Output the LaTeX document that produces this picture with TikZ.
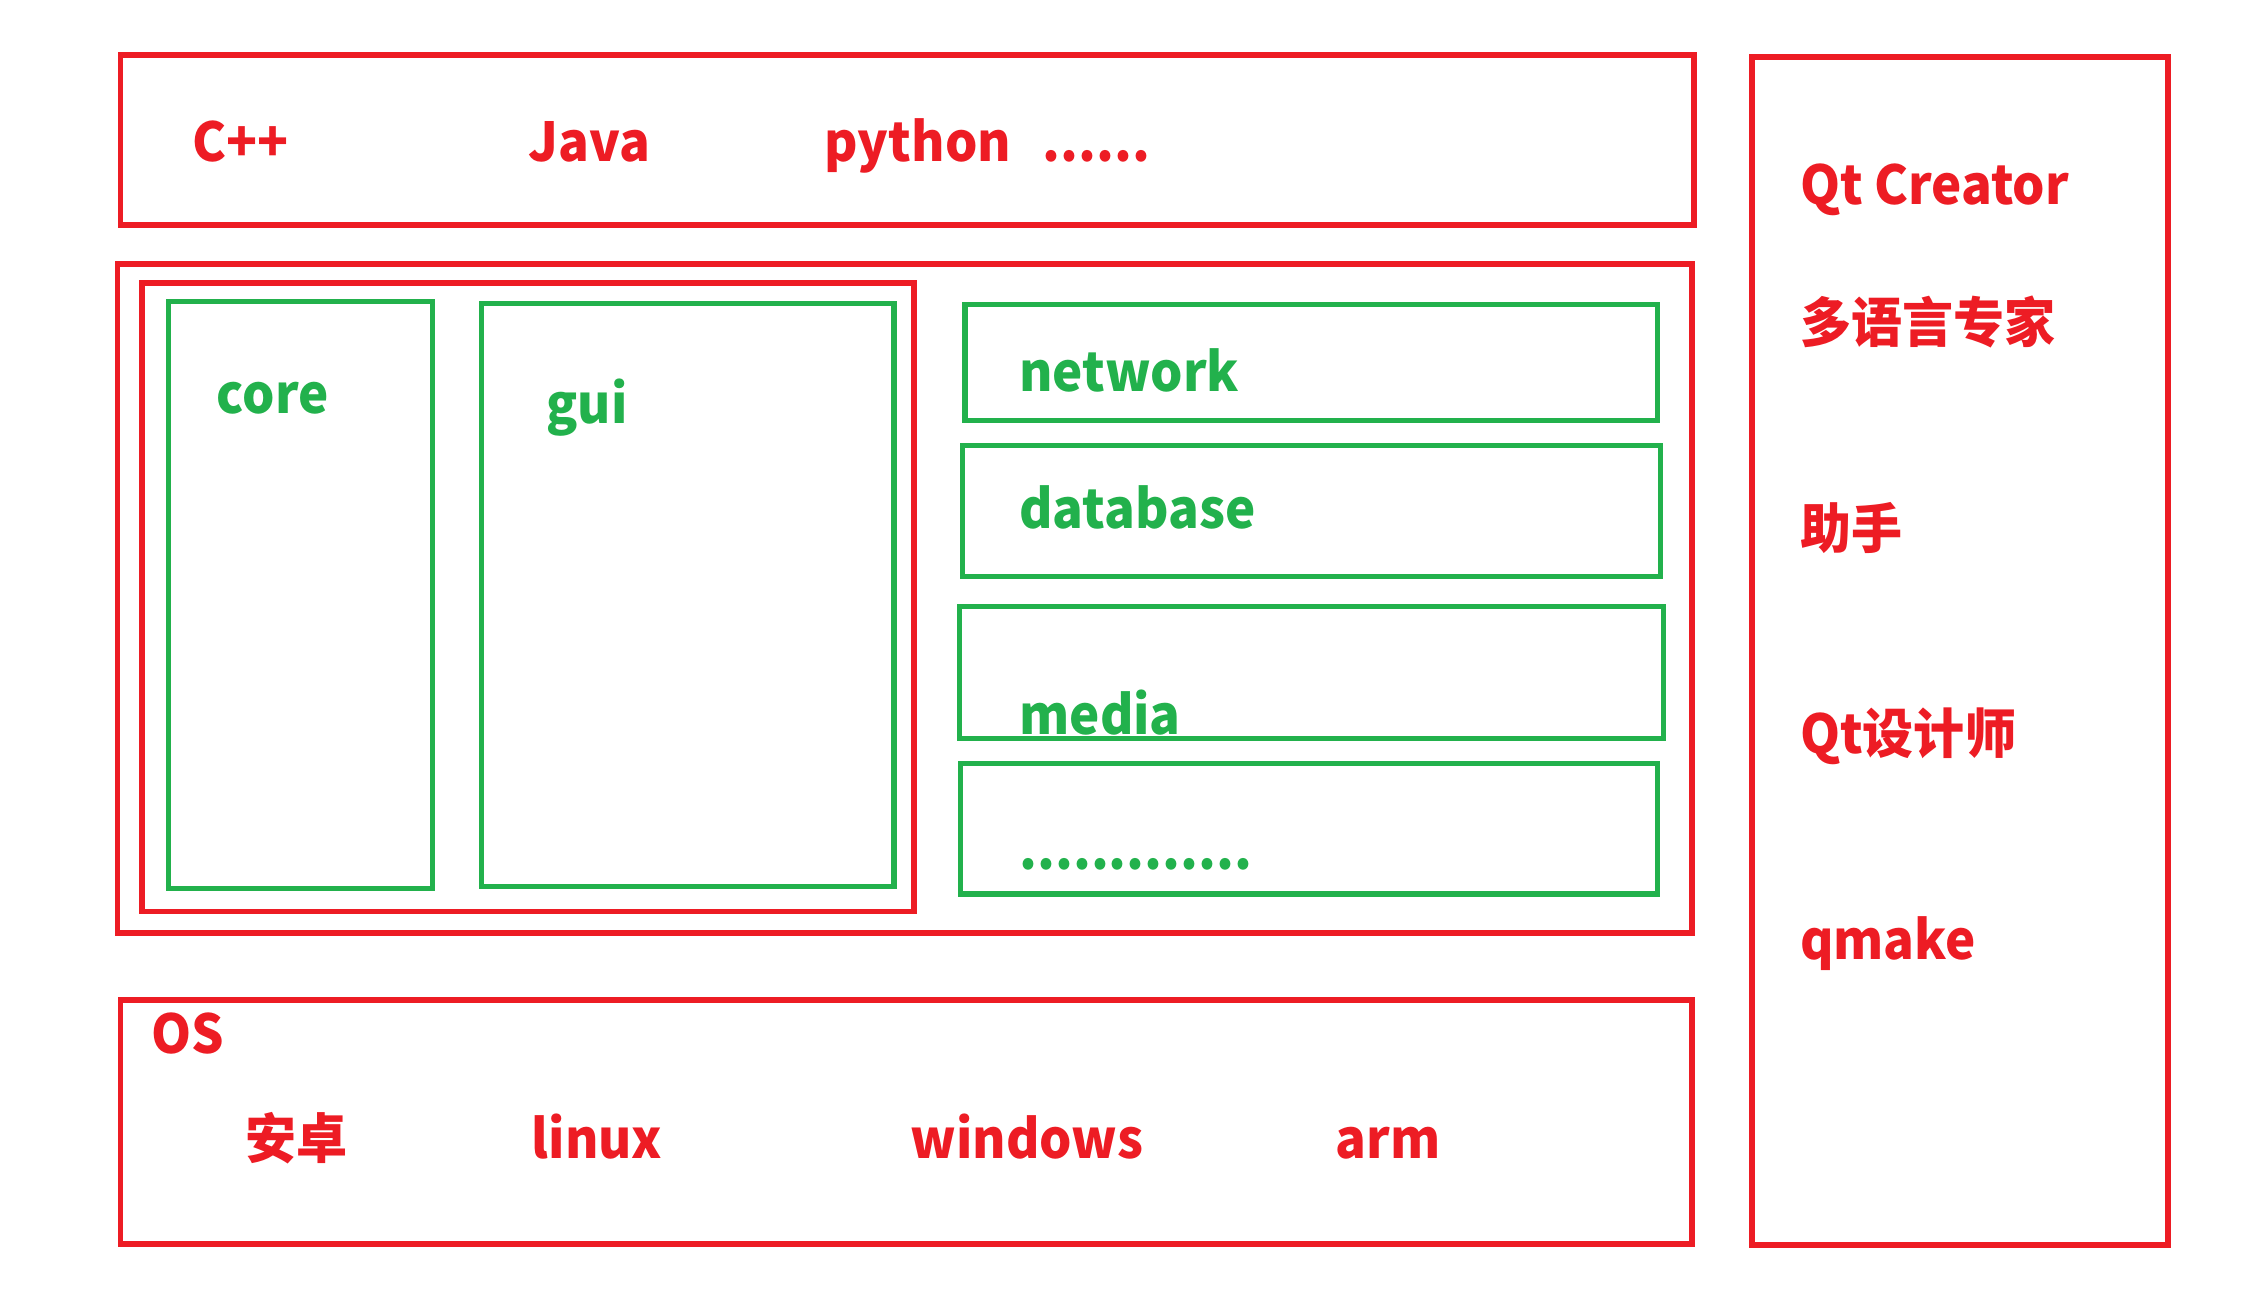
\documentclass[tikz,border=0pt]{standalone}
\usepackage{fontspec}
\setmainfont{Noto Sans CJK SC}[FakeStretch=0.95]
\definecolor{pred}{HTML}{ED1C24}
\definecolor{pgreen}{HTML}{22B14C}
\tikzset{
  redbox/.style={draw=pred, line width=2pt},
  greenbox/.style={draw=pgreen, line width=1.8pt},
  lbl/.style={anchor=base west, inner sep=0pt, font=\fontsize{18.5}{22}\selectfont\bfseries},
  rlbl/.style={lbl, text=pred},
  glbl/.style={lbl, text=pgreen}
}
\begin{document}
\begin{tikzpicture}[x=0.5pt,y=-0.5pt]
\useasboundingbox (0,0) rectangle (1560,896);
% red frames
\draw[redbox] (83,38) rectangle (1167,155);
\draw[redbox] (1207,39) rectangle (1494,858);
\draw[redbox] (81,182) rectangle (1166,643);
\draw[redbox] (98,195) rectangle (630,628);
\draw[redbox] (83,689) rectangle (1166,857);
% green frames
\draw[greenbox] (116,208) rectangle (298,612);
\draw[greenbox] (332,209) rectangle (616,611);
\draw[greenbox] (665,210) rectangle (1142,290);
\draw[greenbox] (663,307) rectangle (1144,397);
\draw[greenbox] (661,418) rectangle (1146,509);
\draw[greenbox] (662,526) rectangle (1142,616);
% top languages
\node[rlbl] (cpp) at (132,111) {C++};
\node[rlbl] (java) at (364,111) {Java};
\node[rlbl] (python) at (568,111) {python};
\node[rlbl] (etc1) at (718,111) {......};
% right column
\node[rlbl] (qtc) at (1240,141) {Qt Creator};
\node[rlbl] (multi) at (1240,236) {多语言专家};
\node[rlbl] (helper) at (1240,378) {助手};
\node[rlbl] (designer) at (1240,519) {Qt设计师};
\node[rlbl] (qmake) at (1240,661) {qmake};
% modules
\node[glbl] (core) at (149,285) {core};
\node[glbl] (gui) at (376,292) {gui};
\node[glbl] (network) at (702,270) {network};
\node[glbl] (database) at (702,364) {database};
\node[glbl] (media) at (702,506) {media};
\node[glbl] (etc2) at (702,599) {.............};
% OS
\node[rlbl] (os) at (104,726) {OS};
\node[rlbl] (android) at (169,798) {安卓};
\node[rlbl] (linux) at (366,798) {linux};
\node[rlbl] (windows) at (627,798) {windows};
\node[rlbl] (arm) at (920,798) {arm};
\end{tikzpicture}
\end{document}
